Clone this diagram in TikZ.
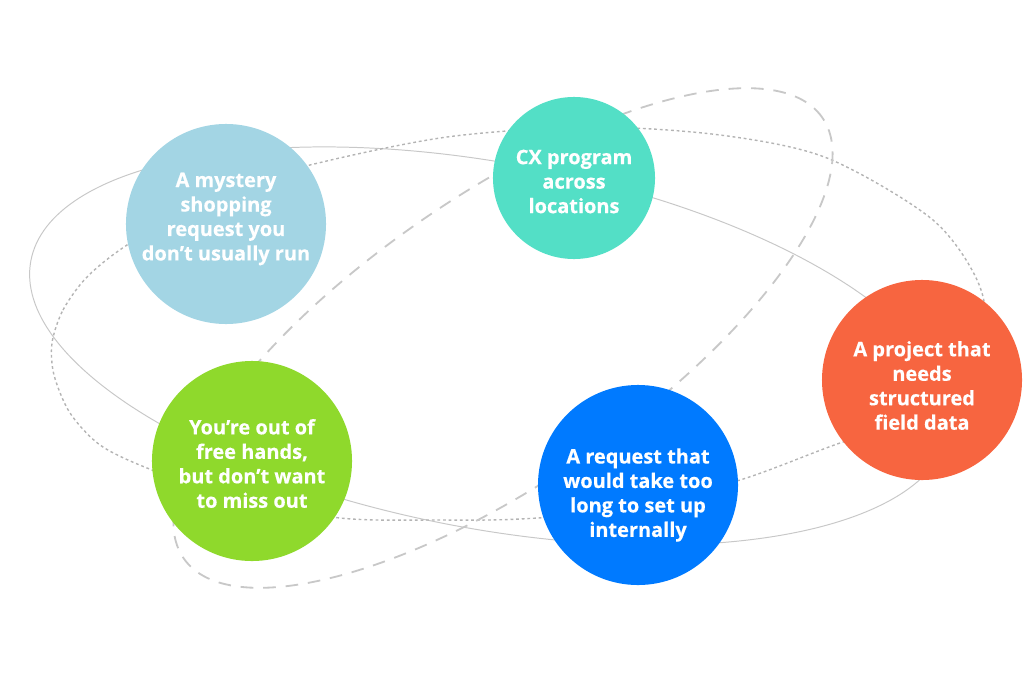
\documentclass[tikz,border=0pt]{standalone}
\usepackage{fontspec}
\setmainfont{Open Sans}[BoldFeatures={FakeBold=0.35}]
\definecolor{mysteryblue}{RGB}{163,213,228}
\definecolor{cxteal}{RGB}{83,223,198}
\definecolor{fieldred}{RGB}{247,101,64}
\definecolor{requestblue}{RGB}{0,122,255}
\definecolor{handsgreen}{RGB}{143,217,44}
\definecolor{orbitgray}{RGB}{200,200,200}
\begin{document}
\begin{tikzpicture}[x=0.025cm, y=0.025cm,
  bubble/.style={circle, inner sep=0pt, minimum size=5cm},
  blurb/.style={text=white, align=center, inner sep=0pt,
    font=\bfseries\fontsize{14.2}{17.4}\selectfont},
  orbit/.style={orbitgray, line width=0.7pt},
  longdash/.style={orbitgray, line width=1.3pt, dash pattern=on 9pt off 7pt},
  shortdash/.style={orbitgray!90!black, line width=1pt, dash pattern=on 2pt off 2pt}]
\useasboundingbox (0,0) rectangle (1024,-677);
% orbits first, bubbles on top
\draw[orbit, rotate around={-10.5:(490,-346)}] (490,-346) ellipse [x radius=467, y radius=183];
\draw[shortdash] plot[smooth cycle] coordinates {(52,-343) (63,-310) (87,-277) (127,-245) (210,-195)
  (310,-165) (447,-137) (590,-127) (720,-135) (827,-158) (933,-220) (980,-287) (982,-350)
  (930,-415) (840,-443) (740,-480) (620,-510) (520,-519) (440,-520) (340,-518) (230,-497)
  (147,-468) (100,-445) (70,-413) (54,-375)};
\draw[longdash, rotate around={34.6:(503,-338)}] (503,-338) ellipse [x radius=388, y radius=143];

\node[bubble, fill=mysteryblue] (mystery) at (226,-224) {};
\node[bubble, fill=cxteal, minimum size=4.05cm] (cx) at (574,-178) {};
\node[bubble, fill=fieldred] (field) at (922,-380) {};
\node[bubble, fill=requestblue] (request) at (638,-485) {};
\node[bubble, fill=handsgreen] (hands) at (252,-461) {};

\node[blurb] (mysterytext) at (226,-219) {A mystery\\shopping\\request you\\don’t usually run};
\node[blurb] (cxtext) at (574,-181.5) {CX program\\across\\locations};
\node[blurb] (fieldtext) at (922,-385.5) {A project that\\needs\\structured\\field data};
\node[blurb] (requesttext) at (638,-495) {A request that\\would take too\\long to set up\\internally};
\node[blurb] (handstext) at (252,-463.5) {You’re out of\\free hands,\\but don’t want\\to miss out};
\end{tikzpicture}
\end{document}
